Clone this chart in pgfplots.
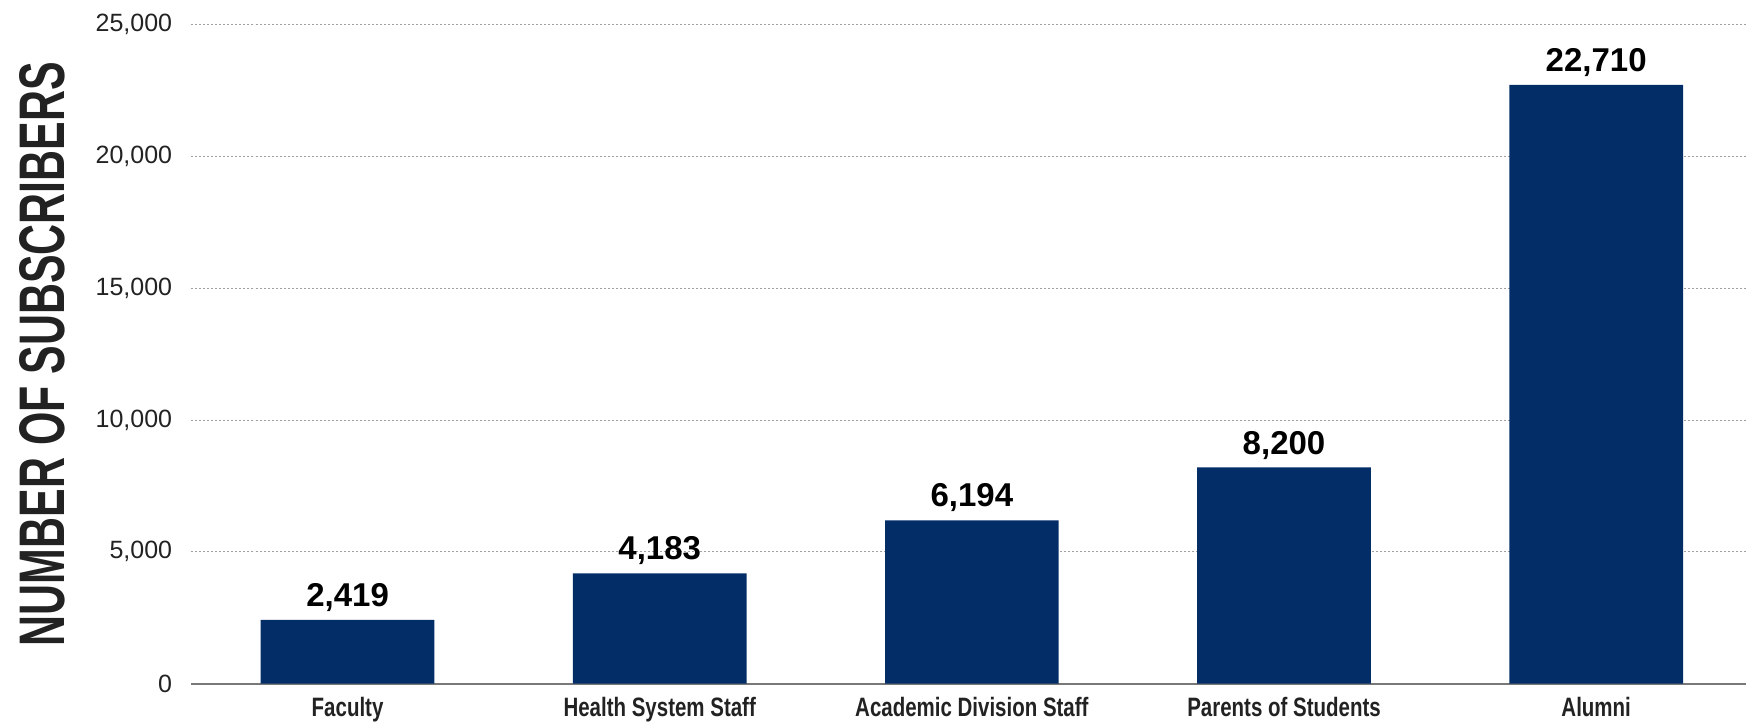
\documentclass[border=0pt]{standalone}
\usepackage{pgfplots}
\pgfplotsset{compat=1.18}
\usepackage{graphicx}
\usepackage{fontspec}
\setmainfont{Liberation Sans}
\newfontfamily\condfont[FakeStretch=0.77]{Liberation Sans}
\definecolor{barblue}{RGB}{3,45,103}
\definecolor{txt}{RGB}{34,34,34}
\definecolor{gridc}{RGB}{160,160,160}
\definecolor{axisc}{RGB}{120,120,120}
\begin{document}
\begin{tikzpicture}
\begin{axis}[
  scale only axis,
  width=777.25pt, height=329.6pt,
  xmin=-0.5, xmax=4.48,
  ymin=0, ymax=25000,
  ytick={0,5000,10000,15000,20000,25000},
  xtick={0,1,2,3,4},
  xticklabels={Faculty,Health System Staff,Academic Division Staff,Parents of Students,Alumni},
  scaled ticks=false,
  /pgf/number format/.cd, 1000 sep={,}, assume math mode=true,
  /pgfplots/.cd,
  axis x line*=bottom,
  axis y line*=left,
  y axis line style={draw=none},
  x axis line style={draw=axisc, line width=1pt, -},
  major tick length=0pt,
  ymajorgrids,
  grid style={draw=gridc, line width=0.5pt, dash pattern=on 1pt off 1pt},
  yticklabel style={font=\fontsize{12.5}{14}\selectfont, text=txt, anchor=east, inner sep=0pt, xshift=-9.5pt},
  ytick style={draw=none},
  xtick style={draw=none},
  xticklabel style={font=\condfont\bfseries\fontsize{13.3}{15}\selectfont, text=txt, anchor=base, inner sep=0pt, yshift=-16.2pt},
  clip=false,
]
\addplot[ybar, bar width=86.85pt, fill=barblue, draw=none,
  nodes near coords,
  every node near coord/.append style={font=\bfseries\fontsize{16.5}{18}\selectfont, text=black, anchor=base, inner sep=0pt, yshift=6.7pt}]
  coordinates {(0,2419) (1,4183) (2,6194) (3,8200) (4,22710)};
\node[rotate=90, anchor=center, text=txt, inner sep=0pt] at ([xshift=-74.75pt]axis description cs:0,0.5)
  {\resizebox{292pt}{22.5pt}{\bfseries NUMBER OF SUBSCRIBERS}};
\end{axis}
\pgfresetboundingbox
\path[use as bounding box] ([shift={(-95.75pt,-19.15pt)}]current axis.south west) rectangle ([shift={(0pt,12.25pt)}]current axis.north east);
\end{tikzpicture}
\end{document}
